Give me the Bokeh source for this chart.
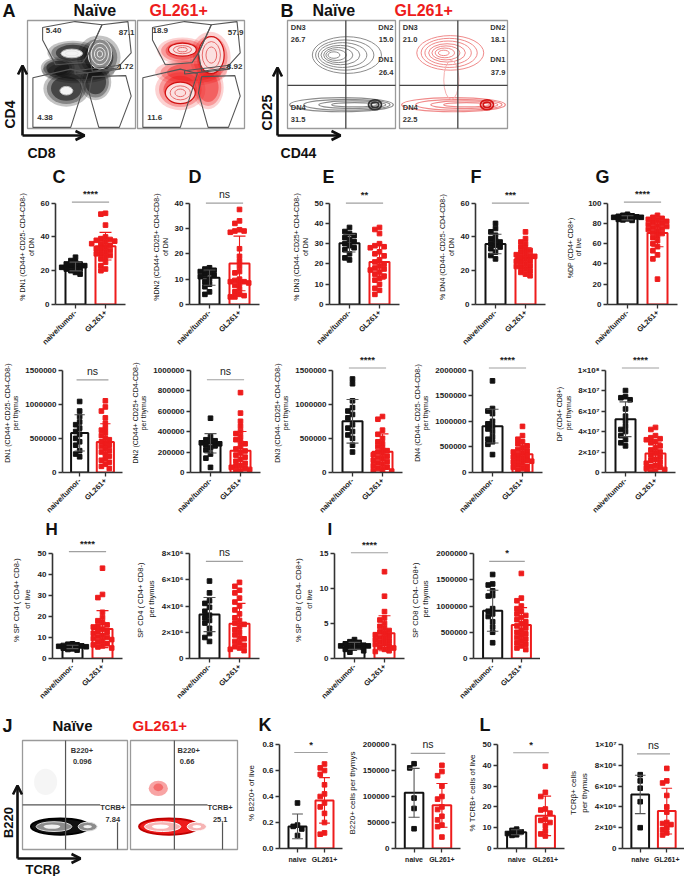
import math
from bokeh.plotting import figure
from bokeh.models import Range1d, FixedTicker, Arrow, OpenHead, Spacer
from bokeh.layouts import row, column
from bokeh.embed import file_html
from bokeh.resources import INLINE
from bokeh.core.properties import value

FONT = "Liberation Sans"
RED = "#ee1c1c"
BLACK = "#111111"

# ======================= DATA =======================
GROUP_LABELS = ["naive/tumor-", "GL261+"]
GROUP_LABELS_SHORT = ["naive", "GL261+"]

# --- C: % DN1 of DN
DN1_PCT_NAIVE = [28, 26, 25, 24, 24, 23, 23, 22, 22, 21, 21, 20, 19, 18]
DN1_PCT_GL = [54, 53.5, 47, 40, 39, 38.5, 38, 37.5, 37, 36, 36, 35, 34, 33, 33, 32, 31, 30, 30, 29, 28, 27, 25, 23, 21, 20]
DN1_PCT_MEAN = [22.5, 34.5]
DN1_PCT_SD = [2.6, 8.2]
# --- D: % DN2 of DN
DN2_PCT_NAIVE = [14.5, 14, 13.5, 13, 12.5, 12, 11.5, 11, 10, 9, 8, 7, 5, 4]
DN2_PCT_GL = [37.5, 33, 32, 29.5, 29, 29, 28.5, 22, 19, 17, 15, 13, 12.5, 10, 9.5, 9, 9, 8.5, 8, 7.5, 6, 5, 4, 3.5, 3, 3]
DN2_PCT_MEAN = [10.6, 16.2]
DN2_PCT_SD = [3.0, 10.8]
# --- E: % DN3 of DN
DN3_PCT_NAIVE = [38, 36, 35, 34, 33, 32, 31, 30, 29, 28, 27, 25, 23, 22]
DN3_PCT_GL = [38, 37, 35, 30, 29, 28.5, 28, 26, 25, 24, 22, 21, 20, 19, 18, 17.5, 17, 16, 15, 14, 13, 12, 10, 8, 7, 5]
DN3_PCT_MEAN = [30.2, 21.0]
DN3_PCT_SD = [4.3, 8.5]
# --- F: % DN4 of DN
DN4_PCT_NAIVE = [48, 45, 43, 41, 39, 38, 37, 36, 35, 34, 33, 31, 29, 27]
DN4_PCT_GL = [43, 39, 37, 36, 34, 33, 32, 31, 30, 29.5, 29, 28.5, 28, 27, 26, 25.5, 25, 24, 23, 22.5, 22, 21, 20, 19, 18, 17]
DN4_PCT_MEAN = [35.8, 27.5]
DN4_PCT_SD = [5.8, 6.0]
# --- G: % DP of live
DP_PCT_NAIVE = [89, 88, 87.5, 87, 86.5, 86, 86, 85.5, 85, 85, 84.5, 84, 83.5, 83]
DP_PCT_GL = [88, 86, 85, 84, 83, 82, 81, 80, 79, 78, 77, 76, 75, 74, 73, 71, 70, 68, 66, 63, 60, 57, 53, 49, 45, 25]
DP_PCT_MEAN = [85.5, 70.5]
DP_PCT_SD = [2.0, 13.5]
# --- DN1 per thymus
DN1_CNT_NAIVE = [1040000, 900000, 820000, 740000, 700000, 650000, 600000, 560000, 500000, 450000, 400000, 320000, 270000, 230000]
DN1_CNT_GL = [1050000, 960000, 900000, 800000, 720000, 650000, 620000, 580000, 540000, 500000, 480000, 450000, 420000, 400000, 380000, 350000, 320000, 300000, 270000, 240000, 200000, 180000, 150000, 120000, 90000, 60000]
DN1_CNT_MEAN = [580000, 445000]
DN1_CNT_SD = [265000, 270000]
# --- DN2 per thymus
DN2_CNT_NAIVE = [530000, 350000, 320000, 310000, 300000, 290000, 280000, 270000, 260000, 240000, 220000, 180000, 140000, 50000]
DN2_CNT_GL = [780000, 580000, 500000, 450000, 400000, 380000, 350000, 320000, 300000, 280000, 250000, 230000, 210000, 190000, 170000, 150000, 130000, 110000, 90000, 70000, 60000, 50000, 40000, 30000, 20000, 10000]
DN2_CNT_MEAN = [285000, 213000]
DN2_CNT_SD = [95000, 187000]
# --- DN3 per thymus
DN3_CNT_NAIVE = [1370000, 1300000, 1050000, 950000, 900000, 850000, 800000, 700000, 650000, 600000, 550000, 500000, 400000, 300000]
DN3_CNT_GL = [820000, 780000, 620000, 560000, 500000, 450000, 420000, 380000, 350000, 320000, 300000, 280000, 260000, 240000, 220000, 200000, 180000, 160000, 140000, 120000, 100000, 80000, 60000, 40000, 30000, 20000]
DN3_CNT_MEAN = [750000, 305000]
DN3_CNT_SD = [320000, 260000]
# --- DN4 per thymus
DN4_CNT_NAIVE = [1790000, 1250000, 1200000, 1150000, 1000000, 950000, 900000, 850000, 800000, 700000, 650000, 600000, 550000, 350000]
DN4_CNT_GL = [900000, 720000, 650000, 600000, 560000, 520000, 480000, 450000, 420000, 400000, 380000, 350000, 330000, 300000, 280000, 260000, 240000, 220000, 200000, 180000, 150000, 120000, 100000, 80000, 50000, 30000]
DN4_CNT_MEAN = [905000, 358000]
DN4_CNT_SD = [330000, 200000]
# --- DP per thymus
DP_CNT_NAIVE = [80000000, 74000000, 73000000, 71000000, 62000000, 55000000, 50000000, 45000000, 42000000, 40000000, 36000000, 32000000, 29000000, 26000000]
DP_CNT_GL = [44000000, 42000000, 36000000, 34000000, 33000000, 32000000, 30000000, 29000000, 26000000, 24000000, 22000000, 20000000, 19000000, 17000000, 15000000, 13000000, 12000000, 10000000, 9000000, 7000000, 6000000, 5000000, 4000000, 3000000, 2000000, 1000000]
DP_CNT_MEAN = [52000000, 18500000]
DP_CNT_SD = [17000000, 11000000]
# --- H: % SP CD4 of live
SP4_PCT_NAIVE = [7, 6.8, 6.5, 6.2, 6, 5.8, 5.6, 5.5, 5.3, 5.1, 4.9, 4.6, 4.3, 4]
SP4_PCT_GL = [43, 30.5, 29, 22, 19.5, 18, 17, 16, 15.5, 15, 14, 13, 12.5, 12, 11, 10.5, 10, 9.5, 9, 8.5, 8, 7, 6.5, 6, 5.5, 5]
SP4_PCT_MEAN = [5.5, 14.0]
SP4_PCT_SD = [0.8, 8.8]
# --- SP CD4 per thymus
SP4_CNT_NAIVE = [5900000, 5000000, 4400000, 4200000, 3900000, 3600000, 3300000, 3100000, 2900000, 2700000, 2300000, 1900000, 1600000, 1300000]
SP4_CNT_GL = [5800000, 5500000, 5200000, 5000000, 4600000, 4300000, 4000000, 3700000, 3400000, 3100000, 2900000, 2700000, 2600000, 2400000, 2200000, 2000000, 1800000, 1600000, 1500000, 1300000, 1200000, 1000000, 900000, 800000, 700000, 600000]
SP4_CNT_MEAN = [3350000, 2650000]
SP4_CNT_SD = [1300000, 1550000]
# --- I: % SP CD8 of live
SP8_PCT_NAIVE = [2.7, 2.4, 2.3, 2.1, 2.0, 1.9, 1.8, 1.8, 1.7, 1.6, 1.5, 1.3, 1.1, 0.9]
SP8_PCT_GL = [12.4, 8.9, 6.7, 5.8, 5.5, 5.0, 4.6, 4.3, 4.0, 3.8, 3.6, 3.4, 3.2, 3.0, 2.9, 2.7, 2.5, 2.3, 2.1, 2.0, 1.8, 1.6, 1.5, 1.3, 1.1, 1.0]
SP8_PCT_MEAN = [1.8, 3.6]
SP8_PCT_SD = [0.5, 2.5]
# --- SP CD8 per thymus
SP8_CNT_NAIVE = [1600000, 1420000, 1400000, 1290000, 1200000, 1190000, 950000, 900000, 850000, 800000, 700000, 600000, 500000, 300000]
SP8_CNT_GL = [1620000, 1150000, 1100000, 1000000, 950000, 900000, 850000, 820000, 780000, 740000, 700000, 660000, 620000, 580000, 540000, 500000, 470000, 440000, 400000, 370000, 340000, 300000, 270000, 240000, 200000, 170000]
SP8_CNT_MEAN = [910000, 640000]
SP8_CNT_SD = [390000, 330000]
# --- K: % B220+ of live
B220_PCT_NAIVE = [0.35, 0.18, 0.17, 0.15, 0.10]
B220_PCT_GL = [0.65, 0.62, 0.60, 0.57, 0.49, 0.42, 0.40, 0.35, 0.32, 0.27, 0.20, 0.12, 0.11]
B220_PCT_MEAN = [0.17, 0.37]
B220_PCT_SD = [0.095, 0.175]
# --- B220+ cells per thymus
B220_CNT_NAIVE = [163000, 155000, 97000, 77000, 38000]
B220_CNT_GL = [160000, 148000, 140000, 120000, 100000, 95000, 80000, 75000, 62000, 55000, 45000, 42000, 22000]
B220_CNT_MEAN = [107000, 83000]
B220_CNT_SD = [47000, 42000]
# --- L: % TCRB+ of live
TCRB_PCT_NAIVE = [9.3, 8.7, 8.0, 7.2, 6.6, 6.3]
TCRB_PCT_GL = [39.5, 27, 25, 19, 18.5, 17, 14, 13.5, 12.5, 11, 8.5, 7, 6]
TCRB_PCT_MEAN = [7.8, 15.7]
TCRB_PCT_SD = [1.2, 9.5]
# --- TCRb+ cells per thymus
TCRB_CNT_NAIVE = [7100000, 6500000, 5800000, 4500000, 2000000]
TCRB_CNT_GL = [7700000, 6500000, 6300000, 5100000, 4000000, 3500000, 2500000, 2400000, 2300000, 2000000, 1800000, 1500000, 1300000]
TCRB_CNT_MEAN = [5200000, 3600000]
TCRB_CNT_SD = [1850000, 2200000]

# tick values / labels
TICKS_0_60 = [0, 20, 40, 60]
TICKS_0_40 = [0, 10, 20, 30, 40]
TICKS_0_50 = [0, 10, 20, 30, 40, 50]
TICKS_0_100 = [0, 20, 40, 60, 80, 100]
TICKS_1_5M = [0, 500000, 1000000, 1500000]
TICKS_1M = [0, 200000, 400000, 600000, 800000, 1000000]
TICKS_2M = [0, 500000, 1000000, 1500000, 2000000]
TICKS_1E8 = [0, 20000000, 40000000, 60000000, 80000000, 100000000]
LABELS_1E8 = ["0", "2×10⁷", "4×10⁷", "6×10⁷", "8×10⁷", "1×10⁸"]
TICKS_8E6 = [0, 2000000, 4000000, 6000000, 8000000]
LABELS_8E6 = ["0", "2×10⁶", "4×10⁶", "6×10⁶", "8×10⁶"]
TICKS_0_15 = [0, 5, 10, 15]
TICKS_0_08 = [0, 0.2, 0.4, 0.6, 0.8]
LABELS_0_08 = ["0.0", "0.2", "0.4", "0.6", "0.8"]
TICKS_200K = [0, 50000, 100000, 150000, 200000]
TICKS_1E7 = [0, 2000000, 4000000, 6000000, 8000000, 10000000]
LABELS_1E7 = ["0", "2×10⁶", "4×10⁶", "6×10⁶", "8×10⁶", "1×10⁷"]

# significance: (text, height of bar in data units)
SIG = {
    "C": ("****", 60.6), "D": ("ns", 40.0), "E": ("**", 50.0), "F": ("***", 60.0), "G": ("****", 101),
    "DN1c": ("ns", 1357000), "DN2c": ("ns", 905000), "DN3c": ("****", 1530000), "DN4c": ("****", 2040000), "DPc": ("****", 102000000),
    "H": ("****", 50.9), "SP4c": ("ns", 7400000), "I": ("****", 15.1), "SP8c": ("*", 1850000),
    "K": ("*", 0.738), "B220c": ("ns", 183000), "L": ("*", 46), "TCRBc": ("ns", 9100000),
}

# flow cytometry summaries (box fractions: x from left, y from bottom)
A_NAIVE_FREQ = ["5.40", "87.1", "1.72", "4.38"]
A_GL_FREQ = ["18.9", "57.9", "8.92", "11.6"]
B_GATES = ["DN3", "DN2", "DN1", "DN4"]
B_NAIVE_FREQ = ["26.7", "15.0", "26.4", "31.5"]
B_GL_FREQ = ["21.0", "18.1", "37.9", "22.5"]
J_GATES = ["B220+", "TCRB+"]
J_NAIVE_FREQ = ["0.096", "7.84"]
J_GL_FREQ = ["0.66", "25.1"]

GATE_CD4 = [(0.14, 0.82), (0.14, 0.935), (0.44, 0.99), (0.69, 0.96), (0.57, 0.70), (0.51, 0.61), (0.26, 0.59)]
GATE_DP = [(0.69, 0.96), (0.93, 0.99), (0.96, 0.70), (0.83, 0.56), (0.60, 0.53), (0.57, 0.70)]
GATE_DN = [(0.05, 0.01), (0.05, 0.47), (0.40, 0.55), (0.56, 0.51), (0.40, 0.01)]
GATE_CD8 = [(0.60, 0.48), (0.91, 0.49), (0.96, 0.30), (0.85, 0.01), (0.66, 0.01), (0.57, 0.33)]
GATE_MID = [(0.44, 0.535), (0.86, 0.585), (0.86, 0.55), (0.44, 0.505)]

# populations (cx, cy, w, h, angle)
A_NAIVE_CLOUD = [(0.42, 0.70, 0.42, 0.20, 0), (0.66, 0.66, 0.36, 0.36, 0), (0.47, 0.53, 0.60, 0.20, 0),
                 (0.36, 0.37, 0.38, 0.30, 0), (0.63, 0.43, 0.26, 0.30, 0), (0.28, 0.56, 0.28, 0.18, 0)]
A_NAIVE_WHITE = [(0.41, 0.695, 0.20, 0.08, 0), (0.36, 0.35, 0.12, 0.08, 0)]
A_NAIVE_GREY = [(0.67, 0.69, 0.22, 0.28, 0)]
A_NAIVE_RINGS = [(0.41, 0.695, 0.12, 0.045, 0), (0.67, 0.69, 0.16, 0.20, 0), (0.67, 0.69, 0.10, 0.12, 0), (0.67, 0.69, 0.05, 0.06, 0)]
A_GL_CLOUD = [(0.42, 0.72, 0.42, 0.22, 0), (0.68, 0.66, 0.34, 0.42, 0), (0.50, 0.52, 0.60, 0.22, 0),
              (0.40, 0.36, 0.42, 0.34, 0), (0.66, 0.38, 0.26, 0.36, 0)]
A_GL_CORE = [(0.42, 0.73, 0.26, 0.12, 0), (0.69, 0.68, 0.24, 0.34, 0), (0.40, 0.33, 0.28, 0.20, 0)]
A_GL_RINGS = [(0.42, 0.73, 0.17, 0.075, 0), (0.42, 0.73, 0.09, 0.04, 0), (0.69, 0.68, 0.17, 0.25, 0),
              (0.69, 0.68, 0.10, 0.15, 0), (0.40, 0.33, 0.19, 0.13, 0), (0.40, 0.33, 0.10, 0.07, 0)]
B_NAIVE_UPPER = [(0.55, 0.68, 0.64, 0.34), (0.53, 0.68, 0.54, 0.28), (0.51, 0.68, 0.45, 0.23), (0.49, 0.68, 0.36, 0.18),
                 (0.47, 0.68, 0.27, 0.14), (0.45, 0.68, 0.19, 0.10), (0.43, 0.68, 0.11, 0.06)]
B_GL_UPPER = [(0.47, 0.70, 0.62, 0.32), (0.46, 0.70, 0.52, 0.27), (0.45, 0.70, 0.43, 0.22), (0.44, 0.70, 0.34, 0.17),
              (0.43, 0.70, 0.26, 0.13), (0.42, 0.70, 0.18, 0.09), (0.41, 0.70, 0.10, 0.05)]
B_LOWER = [(0.50, 0.22, 0.96, 0.13), (0.55, 0.22, 0.80, 0.10), (0.60, 0.22, 0.62, 0.07), (0.62, 0.22, 0.42, 0.04)]
B_RING = [(0.81, 0.22, 0.12, 0.09), (0.81, 0.22, 0.07, 0.05)]
B_GL_NECK = [(0.48, 0.45, 0.14, 0.36)]
J_BLOB = [(0.36, 0.21, 0.56, 0.15, 0)]
J_INNER = [(0.30, 0.21, 0.34, 0.09, 0), (0.62, 0.21, 0.18, 0.08, 0)]
J_CORE = [(0.28, 0.21, 0.16, 0.04, 0), (0.62, 0.21, 0.08, 0.03, 0)]
J_NAIVE_SPARSE = [(0.22, 0.62, 0.22, 0.24, 0)]
J_GL_CLUSTER = [(0.26, 0.56, 0.18, 0.14, 0), (0.26, 0.57, 0.09, 0.07, 0)]


# ======================= HELPERS =======================
def canvas(w, h, x0, x1, y0, y1):
    f = figure(width=w, height=h, x_range=Range1d(x0, x1), y_range=Range1d(y1, y0),
               x_axis_type=None, y_axis_type=None, title=None, toolbar_location=None,
               output_backend="svg", min_border=0)
    f.outline_line_color = None
    return f


def bx(box, u):
    return box[0] + u * box[2]


def by(box, v):
    return box[1] + (1 - v) * box[3]


def draw_ellipses(f, box, items, scale=1.0, **kw):
    f.ellipse(x=[bx(box, e[0]) for e in items], y=[by(box, e[1]) for e in items],
              width=[e[2] * box[2] * scale for e in items], height=[e[3] * box[3] * scale for e in items],
              angle=[(e[4] if len(e) > 4 else 0) for e in items], **kw)


def soft_cloud(f, box, items, color, alphas=(0.22, 0.3, 0.45)):
    # layered ellipses to give a soft, dotted-cloud edge
    for sc, a in zip((1.12, 0.95, 0.75), alphas):
        draw_ellipses(f, box, items, scale=sc, fill_color=color, fill_alpha=a, line_color=None)


def draw_gate(f, box, pts, color="#555555", lw=1.1):
    f.patch([bx(box, u) for u, v in pts], [by(box, v) for u, v in pts],
            fill_color=None, line_color=color, line_width=lw)


def draw_box(f, box):
    f.quad(left=[box[0]], right=[box[0] + box[2]], top=[box[1]], bottom=[box[1] + box[3]],
           fill_color=None, line_color="#9a9a9a", line_width=1.3)


def txt(f, xs, ys, texts, size, color=BLACK, align="left", bold=True, angle=0.0, baseline="middle"):
    f.text(x=xs, y=ys, text=texts, text_font=value(FONT), text_font_size=size,
           text_font_style="bold" if bold else "normal", text_color=color,
           text_align=align, text_baseline=baseline, angle=angle)


def arrow(f, x0, y0, x1, y1):
    f.add_layout(Arrow(end=OpenHead(size=9, line_width=2.6, line_color=BLACK),
                       x_start=x0, y_start=y0, x_end=x1, y_end=y1,
                       line_width=2.6, line_color=BLACK))


def swarm(vals, center, upp, step=4.6, max_k=3, px_per_x=30.0):
    placed = []
    out = [center] * len(vals)
    for i in sorted(range(len(vals)), key=lambda j: -vals[j]):
        ypx = vals[i] / upp
        cands = [0.0]
        for k in range(1, max_k + 1):
            cands += [-k * step, k * step]
        best, best_c = 0.0, None
        for c in cands:
            coll = sum(1 for (px, py) in placed if abs(px - c) < step and abs(py - ypx) < step)
            if coll == 0:
                best, best_c = c, 0
                break
            if best_c is None or coll < best_c:
                best, best_c = c, coll
        placed.append((best, ypx))
        out[i] = center + best / px_per_x
    return out


ROW_GEOM = {
    2: dict(h=164, mbt=1, mbb=45, frame_h=118, top_gap=14, lab="7px", rot=True),
    3: dict(h=168, mbt=1, mbb=45, frame_h=122, top_gap=17, lab="7px", rot=True),
    4: dict(h=169, mbt=1, mbb=49, frame_h=119, top_gap=14, lab="7.5px", rot=True),
    5: dict(h=139, mbt=0, mbb=28, frame_h=111, top_gap=7, lab="8px", rot=False),
}


def bar_panel(key, ylabel, ticks, labels, naive, gl, mean, sd, rown, width, mbl, mbr):
    g = ROW_GEOM[rown]
    top = ticks[-1]
    y_end = top * g["frame_h"] / (g["frame_h"] - g["top_gap"])
    frame_w = width - mbl - mbr
    p = figure(width=width, height=g["h"], x_range=Range1d(1 / 3, 8 / 3), y_range=Range1d(0, y_end),
               output_backend="svg", toolbar_location=None, title=None,
               min_border_left=mbl, min_border_right=mbr, min_border_top=g["mbt"], min_border_bottom=g["mbb"])
    p.grid.visible = False
    p.outline_line_color = None
    upp = y_end / g["frame_h"]
    pxx = frame_w / (7 / 3)

    ya = p.yaxis[0]
    ya.ticker = FixedTicker(ticks=ticks)
    ya.major_label_overrides = {t: (l if labels else str(t)) for t, l in zip(ticks, labels or ticks)}
    ya.bounds = (0, top)
    ya.axis_label = ylabel
    ya.axis_label_text_font = FONT
    ya.axis_label_text_font_size = g["lab"]
    ya.axis_label_text_font_style = "normal"
    ya.axis_label_text_color = BLACK
    ya.axis_label_standoff = 3
    ya.major_label_text_font = FONT
    ya.major_label_text_font_size = "8px"
    ya.major_label_text_font_style = "bold"
    ya.major_label_text_color = "#222222"
    ya.major_label_standoff = 2
    ya.major_tick_out = 4
    ya.major_tick_in = 0
    ya.minor_tick_line_color = None
    ya.axis_line_width = 1.6
    ya.axis_line_color = "#333333"
    ya.major_tick_line_width = 1.3
    ya.major_tick_line_color = "#333333"

    xa = p.xaxis[0]
    xa.ticker = FixedTicker(ticks=[1, 2])
    names = GROUP_LABELS if g["rot"] else GROUP_LABELS_SHORT
    xa.major_label_overrides = {1: names[0], 2: names[1]}
    xa.major_label_text_font = FONT
    xa.major_label_text_font_size = "7.5px" if g["rot"] else "7px"
    xa.major_label_text_font_style = "bold"
    xa.major_label_text_color = "#222222"
    xa.major_label_standoff = 3
    if g["rot"]:
        xa.major_label_orientation = math.pi / 4
    xa.major_tick_out = 4
    xa.major_tick_in = 0
    xa.minor_tick_line_color = None
    xa.axis_line_width = 1.6
    xa.axis_line_color = "#333333"
    xa.major_tick_line_width = 1.3
    xa.major_tick_line_color = "#333333"

    colors = [BLACK, RED]
    p.vbar(x=[1, 2], top=mean, width=0.667, bottom=0, fill_color="white",
           line_color=colors, line_width=2)
    for i, (vals, c) in enumerate(((naive, BLACK), (gl, RED))):
        xs = swarm(vals, i + 1, upp, px_per_x=pxx)
        p.scatter(x=xs, y=vals, marker="square", size=4.6, fill_color=c, line_color=c)
    ecol = ["#555555", RED]
    lo = [m - s for m, s in zip(mean, sd)]
    hi = [m + s for m, s in zip(mean, sd)]
    p.segment(x0=[1, 2], y0=lo, x1=[1, 2], y1=hi, line_color=ecol, line_width=1.1)
    p.segment(x0=[0.8, 1.8], y0=hi, x1=[1.2, 2.2], y1=hi, line_color=ecol, line_width=1.1)
    p.segment(x0=[0.8, 1.8], y0=lo, x1=[1.2, 2.2], y1=lo, line_color=ecol, line_width=1.1)

    stxt, sy = SIG[key]
    p.segment(x0=[0.88], y0=[sy], x1=[2.12], y1=[sy], line_color="#a0a0a0", line_width=1.1)
    stars = stxt != "ns"
    p.text(x=[1.5], y=[sy + 3 * upp], text=[stxt], text_font=value(FONT),
           text_font_size="9.5px" if stars else "10.5px",
           text_font_style="bold" if stars else "normal", text_color="#222222",
           text_align="center", text_baseline="bottom")
    return p


# ======================= ROW 1: flow A & B =======================
f1 = canvas(684, 162, 8, 692, 8, 170)
A_BOX_N = (35, 28, 108, 108)
A_BOX_G = (145, 28, 107, 108)
B_BOX_N = (295, 28, 108, 108)
B_BOX_G = (407, 28, 108, 108)

# A naive
soft_cloud(f1, A_BOX_N, A_NAIVE_CLOUD, "#111111", alphas=(0.25, 0.35, 0.55))
draw_ellipses(f1, A_BOX_N, A_NAIVE_GREY, fill_color="#8a8a8a", line_color="#dddddd", line_width=1)
draw_ellipses(f1, A_BOX_N, A_NAIVE_WHITE, fill_color="#f4f4f4", line_color="#bbbbbb", line_width=1)
draw_ellipses(f1, A_BOX_N, A_NAIVE_RINGS, fill_color=None, line_color="#e8e8e8", line_width=1)
# A GL261
soft_cloud(f1, A_BOX_G, A_GL_CLOUD, RED, alphas=(0.2, 0.3, 0.45))
draw_ellipses(f1, A_BOX_G, A_GL_CORE, fill_color="#fbe0e0", line_color="#d01010", line_width=1.2)
draw_ellipses(f1, A_BOX_G, A_GL_RINGS, fill_color=None, line_color="#e86a6a", line_width=1)
for box in (A_BOX_N, A_BOX_G):
    draw_box(f1, box)
    for gate in (GATE_CD4, GATE_DP, GATE_DN, GATE_CD8, GATE_MID):
        draw_gate(f1, box, gate)
for box, fr, lx in ((A_BOX_N, A_NAIVE_FREQ, 0.17), (A_BOX_G, A_GL_FREQ, 0.14)):
    txt(f1, [bx(box, lx), bx(box, 0.09)], [by(box, 0.91), by(box, 0.10)], [fr[0], fr[3]], "8px", color="#333333")
    txt(f1, [bx(box, 0.99), bx(box, 0.98)], [by(box, 0.89), by(box, 0.57)], [fr[1], fr[2]], "8px", color="#333333", align="right")

# B contour plots
for box, upper, col, ring in ((B_BOX_N, B_NAIVE_UPPER, "#8c8c8c", "#333333"), (B_BOX_G, B_GL_UPPER, "#f08a8a", "#d41414")):
    draw_ellipses(f1, box, upper, fill_color=None, line_color=col, line_width=1)
    draw_ellipses(f1, box, B_LOWER, fill_color=None, line_color=col, line_width=1.2)
    draw_ellipses(f1, box, B_RING, fill_color=None, line_color=ring, line_width=1.8)
draw_ellipses(f1, B_BOX_G, B_GL_NECK, fill_color=None, line_color="#f6b0b0", line_width=1)
for box, fr in ((B_BOX_N, B_NAIVE_FREQ), (B_BOX_G, B_GL_FREQ)):
    draw_box(f1, box)
    f1.segment(x0=[bx(box, 0.54), bx(box, 0)], y0=[by(box, 1), by(box, 0.40)],
               x1=[bx(box, 0.54), bx(box, 1)], y1=[by(box, 0), by(box, 0.40)],
               line_color="#444444", line_width=1.3)
    txt(f1, [bx(box, 0.03)] * 4, [by(box, 0.935), by(box, 0.82), by(box, 0.19), by(box, 0.08)],
        [B_GATES[0], fr[0], B_GATES[3], fr[3]], "7.5px", color="#333333")
    txt(f1, [bx(box, 0.98)] * 4, [by(box, 0.935), by(box, 0.82), by(box, 0.64), by(box, 0.52)],
        [B_GATES[1], fr[1], B_GATES[2], fr[2]], "7.5px", color="#333333", align="right")

txt(f1, [10, 288], [18, 18], ["A", "B"], "18px")
txt(f1, [81, 320], [18, 18], ["Naïve", "Naïve"], "16px")
txt(f1, [157, 402], [18, 18], ["GL261+", "GL261+"], "16px", color=RED)
arrow(f1, 30, 143, 30, 73)
arrow(f1, 30, 143, 92, 143)
arrow(f1, 285, 143, 285, 75)
arrow(f1, 285, 143, 348, 143)
txt(f1, [17, 274], [122, 120], ["CD4", "CD25"], "14px", align="center", angle=math.pi / 2)
txt(f1, [49, 306], [160, 160], ["CD8", "CD44"], "14px", align="center")

# ======================= ROW 2 =======================
strip2 = canvas(684, 26, 8, 692, 170, 196)
txt(strip2, [60, 196, 330, 478, 603], [184] * 5, ["C", "D", "E", "F", "G"], "18px")

pC = bar_panel("C", "% DN1 (CD44+ CD25- CD4-CD8-)\nof DN", TICKS_0_60, None, DN1_PCT_NAIVE, DN1_PCT_GL, DN1_PCT_MEAN, DN1_PCT_SD, 2, 132, 55, 7)
pD = bar_panel("D", "%DN2 (CD44+ CD25+ CD4-CD8-)\nof DN", TICKS_0_40, None, DN2_PCT_NAIVE, DN2_PCT_GL, DN2_PCT_MEAN, DN2_PCT_SD, 2, 135, 57, 8)
pE = bar_panel("E", "% DN3 (CD44- CD25+ CD4-CD8-)\nof DN", TICKS_0_50, None, DN3_PCT_NAIVE, DN3_PCT_GL, DN3_PCT_MEAN, DN3_PCT_SD, 2, 140, 62, 8)
pF = bar_panel("F", "% DN4 (CD44- CD25- CD4-CD8-)\nof DN", TICKS_0_60, None, DN4_PCT_NAIVE, DN4_PCT_GL, DN4_PCT_MEAN, DN4_PCT_SD, 2, 140, 68, 2)
pG = bar_panel("G", "%DP (CD4+  CD8+)\nof live", TICKS_0_100, None, DP_PCT_NAIVE, DP_PCT_GL, DP_PCT_MEAN, DP_PCT_SD, 2, 137, 60, 7)
row2 = row(pC, pD, pE, pF, pG)

# ======================= ROW 3 =======================
p31 = bar_panel("DN1c", "DN1 (CD44+ CD25- CD4-CD8-)\nper thymus", TICKS_1_5M, None, DN1_CNT_NAIVE, DN1_CNT_GL, DN1_CNT_MEAN, DN1_CNT_SD, 3, 127, 52, 5)
p32 = bar_panel("DN2c", "DN2 (CD44+ CD25+ CD4-CD8-)\nper thymus", TICKS_1M, None, DN2_CNT_NAIVE, DN2_CNT_GL, DN2_CNT_MEAN, DN2_CNT_SD, 3, 137, 63, 4)
p33 = bar_panel("DN3c", "DN3 (CD44- CD25+ CD4-CD8-)\nper thymus", TICKS_1_5M, None, DN3_CNT_NAIVE, DN3_CNT_GL, DN3_CNT_MEAN, DN3_CNT_SD, 3, 142, 68, 4)
p34 = bar_panel("DN4c", "DN4 (CD44- CD25- CD4-CD8-)\nper thymus", TICKS_2M, None, DN4_CNT_NAIVE, DN4_CNT_GL, DN4_CNT_MEAN, DN4_CNT_SD, 3, 139, 66, 3)
p35 = bar_panel("DPc", "DP (CD4+  CD8+)\nper thymus", TICKS_1E8, LABELS_1E8, DP_CNT_NAIVE, DP_CNT_GL, DP_CNT_MEAN, DP_CNT_SD, 3, 139, 60, 9)
row3 = row(p31, p32, p33, p34, p35)

# ======================= ROW 4 =======================
strip4 = canvas(684, 18, 8, 692, 528, 546)
txt(strip4, [53, 335], [537, 537], ["H", "I"], "17px")
pH = bar_panel("H", "% SP  CD4 ( CD4+ CD8-)\nof live", TICKS_0_50, None, SP4_PCT_NAIVE, SP4_PCT_GL, SP4_PCT_MEAN, SP4_PCT_SD, 4, 127, 52, 5)
pH2 = bar_panel("SP4c", "SP  CD4 ( CD4+ CD8-)\nper thymus", TICKS_8E6, LABELS_8E6, SP4_CNT_NAIVE, SP4_CNT_GL, SP4_CNT_MEAN, SP4_CNT_SD, 4, 135, 62, 3)
pI = bar_panel("I", "% SP  CD8 ( CD4- CD8+)\nof live", TICKS_0_15, None, SP8_PCT_NAIVE, SP8_PCT_GL, SP8_PCT_MEAN, SP8_PCT_SD, 4, 145, 72, 3)
pI2 = bar_panel("SP8c", "SP  CD8 ( CD4- CD8+)\nper thymus", TICKS_2M, None, SP8_CNT_NAIVE, SP8_CNT_GL, SP8_CNT_MEAN, SP8_CNT_SD, 4, 133, 63, 0)
row4 = row(pH, pH2, pI, pI2, Spacer(width=144, height=169))

# ======================= ROW 5 =======================
fJ = canvas(244, 169, 8, 252, 715, 884)
J_BOX_N = (30, 748, 105, 109)
J_BOX_G = (138, 748, 107, 109)
draw_ellipses(fJ, J_BOX_N, J_NAIVE_SPARSE, fill_color="#c8c8c8", fill_alpha=0.18, line_color=None)
draw_ellipses(fJ, J_BOX_G, J_GL_CLUSTER, fill_color=RED, fill_alpha=0.4, line_color=None)
draw_ellipses(fJ, J_BOX_N, J_BLOB, fill_color="#111111", line_color="#000000", line_width=2)
draw_ellipses(fJ, J_BOX_N, J_INNER, fill_color="#8c8c8c", line_color="#dddddd", line_width=1)
draw_ellipses(fJ, J_BOX_N, J_CORE, fill_color="#f0f0f0", line_color=None)
draw_ellipses(fJ, J_BOX_G, J_BLOB, fill_color=RED, line_color="#c00000", line_width=2)
draw_ellipses(fJ, J_BOX_G, J_INNER, fill_color="#f6b4b4", line_color="#ffffff", line_width=1)
draw_ellipses(fJ, J_BOX_G, J_CORE, fill_color="#ffffff", line_color=None)
for box, vx, hx, sx, fr, lx in ((J_BOX_N, 0.41, 0.74, 0.905, J_NAIVE_FREQ, 0.46), (J_BOX_G, 0.41, 0.72, 0.86, J_GL_FREQ, 0.44)):
    draw_box(fJ, box)
    fJ.segment(x0=[bx(box, vx), bx(box, 0), bx(box, sx)], y0=[by(box, 1), by(box, 0.41), by(box, 0.25)],
               x1=[bx(box, vx), bx(box, hx), bx(box, sx)], y1=[by(box, 0), by(box, 0.41), by(box, 0)],
               line_color="#555555", line_width=1.2)
    txt(fJ, [bx(box, lx), bx(box, lx + 0.02)], [by(box, 0.91), by(box, 0.81)], [J_GATES[0], fr[0]], "7.5px", color="#333333")
    txt(fJ, [bx(box, hx), bx(box, hx + 0.05)], [by(box, 0.385), by(box, 0.275)], [J_GATES[1], fr[1]], "7.5px", color="#333333")
txt(fJ, [10], [733], ["J"], "18px")
txt(fJ, [60], [733], ["Naïve"], "15px")
txt(fJ, [140], [733], ["GL261+"], "15px", color=RED)
arrow(fJ, 25, 866, 25, 793)
arrow(fJ, 25, 866, 88, 866)
txt(fJ, [16], [830], ["B220"], "13px", align="center", angle=math.pi / 2)
txt(fJ, [33], [877], ["TCRβ"], "13px")

strip5 = canvas(440, 30, 252, 692, 715, 745)
txt(strip5, [266, 487], [732, 732], ["K", "L"], "18px")
pK = bar_panel("K", "% B220+ of live", TICKS_0_08, LABELS_0_08, B220_PCT_NAIVE, B220_PCT_GL, B220_PCT_MEAN, B220_PCT_SD, 5, 100, 30, 2)
pK2 = bar_panel("B220c", "B220+ cells per thymys", TICKS_200K, None, B220_CNT_NAIVE, B220_CNT_GL, B220_CNT_MEAN, B220_CNT_SD, 5, 120, 47, 4)
pL = bar_panel("L", "% TCRB+ cells of live", TICKS_0_50, None, TCRB_PCT_NAIVE, TCRB_PCT_GL, TCRB_PCT_MEAN, TCRB_PCT_SD, 5, 101, 33, 1)
pL2 = bar_panel("TCRBc", "TCRβ+ cells\nper thymus", TICKS_1E7, LABELS_1E7, TCRB_CNT_NAIVE, TCRB_CNT_GL, TCRB_CNT_MEAN, TCRB_CNT_SD, 5, 119, 51, 0)
row5 = row(fJ, column(strip5, row(pK, pK2, pL, pL2)))

layout = column(f1, strip2, row2, row3, strip4, row4, row5)
open("out.html", "w").write(file_html(layout, INLINE))
